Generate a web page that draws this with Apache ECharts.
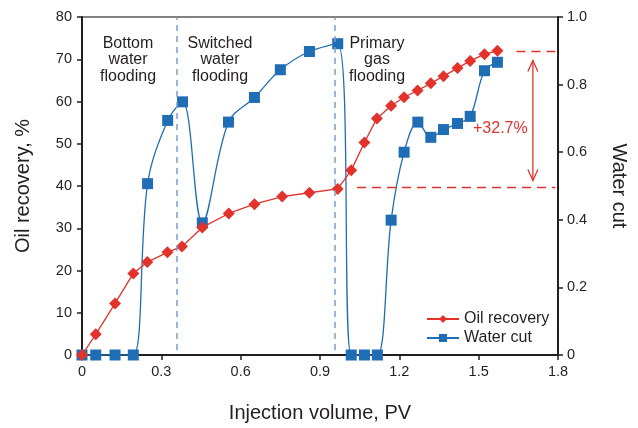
<!DOCTYPE html>
<html>
<head>
<meta charset="utf-8">
<script src="https://cdn.jsdelivr.net/npm/echarts@6/dist/echarts.min.js"></script>
<style>
html, body { margin: 0; padding: 0; background: #fff; }
#chart { width: 638px; height: 428px; }
</style>
</head>
<body>
<div id="chart"></div>
<script>
// injection volume (PV) for each measurement
var pvOil = [0, 0.052, 0.125, 0.194, 0.247, 0.323, 0.378, 0.455, 0.555, 0.652, 0.757, 0.86, 0.967,
	1.018, 1.068, 1.115, 1.169, 1.218, 1.269, 1.319, 1.367, 1.42, 1.468, 1.522, 1.571];
var oilRecovery = [0, 4.9, 12.2, 19.3, 22, 24.3, 25.7, 30.2, 33.5, 35.7, 37.5, 38.4, 39.3,
	43.7, 50.3, 56, 59, 61, 62.6, 64.3, 66, 67.9, 69.6, 71.2, 72];
var pvWater = [0, 0.052, 0.125, 0.194, 0.248, 0.324, 0.38, 0.455, 0.554, 0.652, 0.75, 0.86, 0.967,
	1.018, 1.068, 1.117, 1.169, 1.218, 1.27, 1.319, 1.367, 1.42, 1.468, 1.522, 1.571];
var waterCut = [0, 0, 0, 0, 0.507, 0.694, 0.749, 0.391, 0.689, 0.762, 0.844, 0.898, 0.921,
	0, 0, 0, 0.399, 0.6, 0.689, 0.644, 0.667, 0.685, 0.706, 0.841, 0.866];

// stage boundaries and recovery gain annotation
var stageBounds = [0.358, 0.957];
var stageNames = ['Bottom\nwater\nflooding', 'Switched\nwater\nflooding', 'Primary\ngas\nflooding'];
var recoveryBefore = 39.6;
var recoveryAfter = 72;
var gainLabel = '+32.7%';

var RED = '#e2322b';
var BLUE = '#1f6db5';
var INK = '#231f20';
var FONT = 'Liberation Sans, Arial, sans-serif';

function zip(xs, ys) {
	var out = [];
	for (var i = 0; i < xs.length; i++) {
		out.push([xs[i], ys[i]]);
	}
	return out;
}

function stageText(x, txt) {
	return {
		type: 'text', x: x, y: 35,
		style: { text: txt, align: 'center', font: '16px ' + FONT, fill: INK, lineHeight: 16.5 }
	};
}

var chart = echarts.init(document.getElementById('chart'));

var option = {
	animation: false,
	textStyle: { fontFamily: FONT, color: INK },
	grid: { left: 82, right: 80, top: 17, bottom: 72, show: true, borderColor: '#5a5a5a', borderWidth: 1.5 },
	legend: {
		orient: 'vertical',
		left: 421,
		top: 306,
		itemWidth: 32,
		itemHeight: 10,
		itemGap: 3,
		textStyle: { fontSize: 16, color: INK, fontFamily: FONT },
		data: ['Oil recovery', 'Water cut']
	},
	xAxis: {
		type: 'value',
		min: 0,
		max: 1.8,
		interval: 0.3,
		name: 'Injection volume, PV',
		nameLocation: 'middle',
		nameGap: 48,
		nameTextStyle: { fontSize: 20, color: INK },
		axisLine: { lineStyle: { color: INK, width: 2 } },
		axisTick: { length: 5, lineStyle: { color: INK, width: 1.5 } },
		axisLabel: { fontSize: 14.5, color: INK, margin: 9 },
		splitLine: { show: false }
	},
	yAxis: [{
		type: 'value',
		min: 0,
		max: 80,
		interval: 10,
		name: 'Oil recovery, %',
		nameLocation: 'middle',
		nameGap: 49,
		nameTextStyle: { fontSize: 20, color: INK },
		axisLine: { show: true, lineStyle: { color: INK, width: 2 } },
		axisTick: { show: true, length: 5, lineStyle: { color: INK, width: 1.5 } },
		axisLabel: { fontSize: 14.5, color: INK, margin: 10 },
		splitLine: { show: false }
	}, {
		type: 'value',
		min: 0,
		max: 1,
		interval: 0.2,
		position: 'right',
		name: 'Water cut',
		nameLocation: 'middle',
		nameGap: 51,
		nameRotate: -90,
		nameTextStyle: { fontSize: 20, color: INK },
		axisLine: { show: true, lineStyle: { color: INK, width: 2 } },
		axisTick: { show: true, length: 5, lineStyle: { color: INK, width: 1.5 } },
		axisLabel: {
			fontSize: 14.5, color: INK, margin: 9,
			formatter: function (v) { return v === 0 ? '0' : v.toFixed(1); }
		},
		splitLine: { show: false }
	}],
	series: [{
		name: 'Water cut',
		type: 'line',
		yAxisIndex: 1,
		smooth: 0.35,
		symbol: 'rect',
		symbolSize: 11,
		z: 3,
		itemStyle: { color: BLUE },
		lineStyle: { color: BLUE, width: 1.3 },
		data: zip(pvWater, waterCut),
		markLine: {
			silent: true,
			symbol: 'none',
			label: { show: false },
			lineStyle: { color: '#7b9fcf', type: [6, 5], width: 1.5 },
			data: stageBounds.map(function (b) {
				return [{ coord: [b, 0.015] }, { coord: [b, 1] }];
			})
		}
	}, {
		name: 'Oil recovery',
		type: 'line',
		yAxisIndex: 0,
		symbol: 'diamond',
		symbolSize: 12,
		z: 4,
		itemStyle: { color: RED },
		lineStyle: { color: RED, width: 1.3 },
		data: zip(pvOil, oilRecovery),
		markLine: {
			silent: true,
			symbol: 'none',
			label: { show: false },
			lineStyle: { color: RED, type: [9, 6], width: 1.3 },
			data: [
				[{ coord: [1.04, recoveryBefore] }, { coord: [1.79, recoveryBefore] }],
				[{ coord: [1.643, recoveryAfter] }, { coord: [1.79, recoveryAfter] }]
			]
		}
	}, {
		// double-headed arrow showing the recovery gain
		type: 'custom',
		yAxisIndex: 0,
		silent: true,
		z: 5,
		data: [[1.705, recoveryBefore + 1.7, recoveryAfter - 2.3]],
		renderItem: function (params, api) {
			var p1 = api.coord([api.value(0), api.value(1)]);
			var p2 = api.coord([api.value(0), api.value(2)]);
			var s = { stroke: RED, lineWidth: 1.3, fill: 'none' };
			return {
				type: 'group',
				children: [
					{ type: 'line', shape: { x1: p1[0], y1: p1[1], x2: p2[0], y2: p2[1] }, style: s },
					{ type: 'polyline', shape: { points: [[p2[0] - 5, p2[1] + 11], [p2[0], p2[1]], [p2[0] + 5, p2[1] + 11]] }, style: s },
					{ type: 'polyline', shape: { points: [[p1[0] - 5, p1[1] - 11], [p1[0], p1[1]], [p1[0] + 5, p1[1] - 11]] }, style: s }
				]
			};
		}
	}],
	graphic: [
		stageText(128, stageNames[0]),
		stageText(220, stageNames[1]),
		stageText(377, stageNames[2]),
		{ type: 'text', x: 473, y: 121, style: { text: gainLabel, font: '16px ' + FONT, fill: RED } }
	]
};

chart.setOption(option);
</script>
</body>
</html>
